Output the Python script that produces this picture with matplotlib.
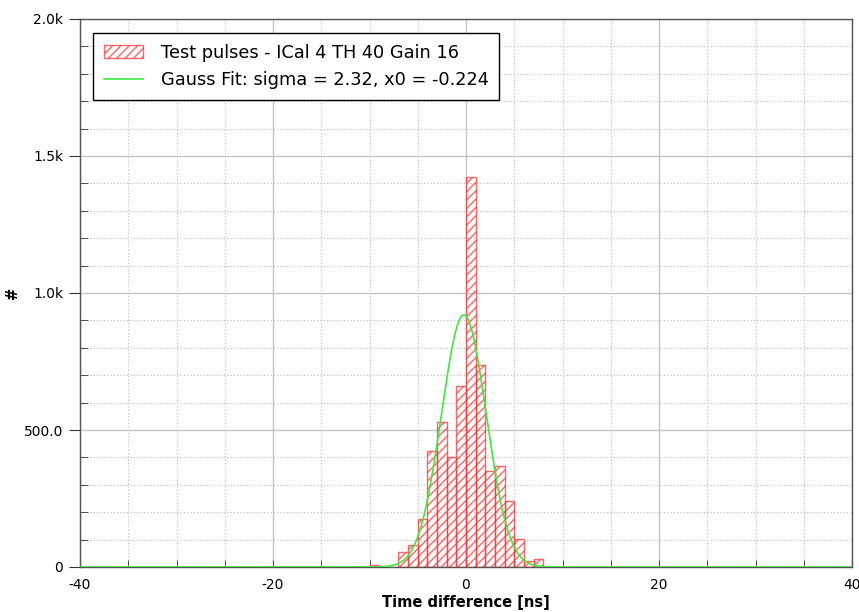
import numpy as np
import matplotlib
matplotlib.use("Agg")
import matplotlib.pyplot as plt
from matplotlib.ticker import MultipleLocator, FixedLocator, FixedFormatter

# Histogram data (bin edges in ns, counts)
bin_left = [-10, -7, -6, -5, -4, -3, -2, -1, 0, 1, 2, 3, 4, 5, 6, 7]
counts = [6, 55, 81, 176, 425, 529, 400, 661, 1423, 736, 352, 369, 240, 103, 22, 30]
bin_width = 1.0

# Gauss fit parameters
fit_amp = 920.0
fit_sigma = 2.32
fit_x0 = -0.224

hist_label = "Test pulses - ICal 4 TH 40 Gain 16"
fit_label = "Gauss Fit: sigma = 2.32, x0 = -0.224"

y_ticks = [0, 500, 1000, 1500, 2000]
y_ticklabels = ["0", "500.0", "1.0k", "1.5k", "2.0k"]
x_ticks = [-40, -20, 0, 20, 40]
x_ticklabels = ["-40", "-20", "0", "20", "40"]

plt.rcParams['font.family'] = ['DejaVu Sans']
plt.rcParams['hatch.linewidth'] = 1.0

fig = plt.figure(figsize=(8.59, 6.12), dpi=100)
ax = fig.add_axes([80/859, 45/612, 772/859, 548/612])

bars = ax.bar(bin_left, counts, width=bin_width, align='edge',
              facecolor='none', edgecolor=(1, 0.2, 0.2, 0.75), hatch='////',
              linewidth=1.0, label=hist_label, zorder=3)

xs = np.linspace(-40, 40, 1601)
ys = fit_amp * np.exp(-0.5 * ((xs - fit_x0) / fit_sigma) ** 2)
line, = ax.plot(xs, ys, color='#3fe83f', linewidth=1.2, label=fit_label, zorder=4)

ax.set_xlim(-40, 40)
ax.set_ylim(0, 2000)

ax.xaxis.set_major_locator(FixedLocator(x_ticks))
ax.xaxis.set_major_formatter(FixedFormatter(x_ticklabels))
ax.xaxis.set_minor_locator(MultipleLocator(5))
ax.yaxis.set_major_locator(FixedLocator(y_ticks))
ax.yaxis.set_major_formatter(FixedFormatter(y_ticklabels))
ax.yaxis.set_minor_locator(MultipleLocator(100))

ax.grid(which='major', color='#c4c4c4', linestyle='-', linewidth=1.0, zorder=0)
ax.grid(which='minor', color='#b8b8b8', linestyle=(0, (1, 2)), linewidth=0.8, zorder=0)
ax.set_axisbelow(True)

ax.tick_params(axis='x', which='major', direction='in', length=5, labelsize=10, pad=8, color='#555555')
ax.tick_params(axis='x', which='minor', direction='in', length=5, color='#333333')
ax.tick_params(axis='y', which='major', direction='out', length=8, labelsize=10, pad=4, color='#333333')
ax.tick_params(axis='y', which='minor', direction='in', length=6, color='#333333')

for s in ax.spines.values():
    s.set_color('#555555')
    s.set_linewidth(1.0)

ax.set_xlabel("Time difference [ns]", fontsize=10.5, fontweight='bold', labelpad=2)
ax.set_ylabel("#", fontsize=10.5, fontweight='bold')
ax.yaxis.set_label_coords(-0.078, 0.5)

leg = ax.legend([bars, line], [hist_label, fit_label],
                loc='upper left', bbox_to_anchor=(13/772, 1 - 14/548), fontsize=12.8,
                frameon=True, fancybox=False, edgecolor='black', framealpha=1.0,
                handlelength=2.2, handleheight=0.8, borderpad=0.6, labelspacing=0.55,
                handletextpad=1.0, borderaxespad=0)
leg.get_frame().set_linewidth(1.0)

fig.savefig("out.png", dpi=100)
